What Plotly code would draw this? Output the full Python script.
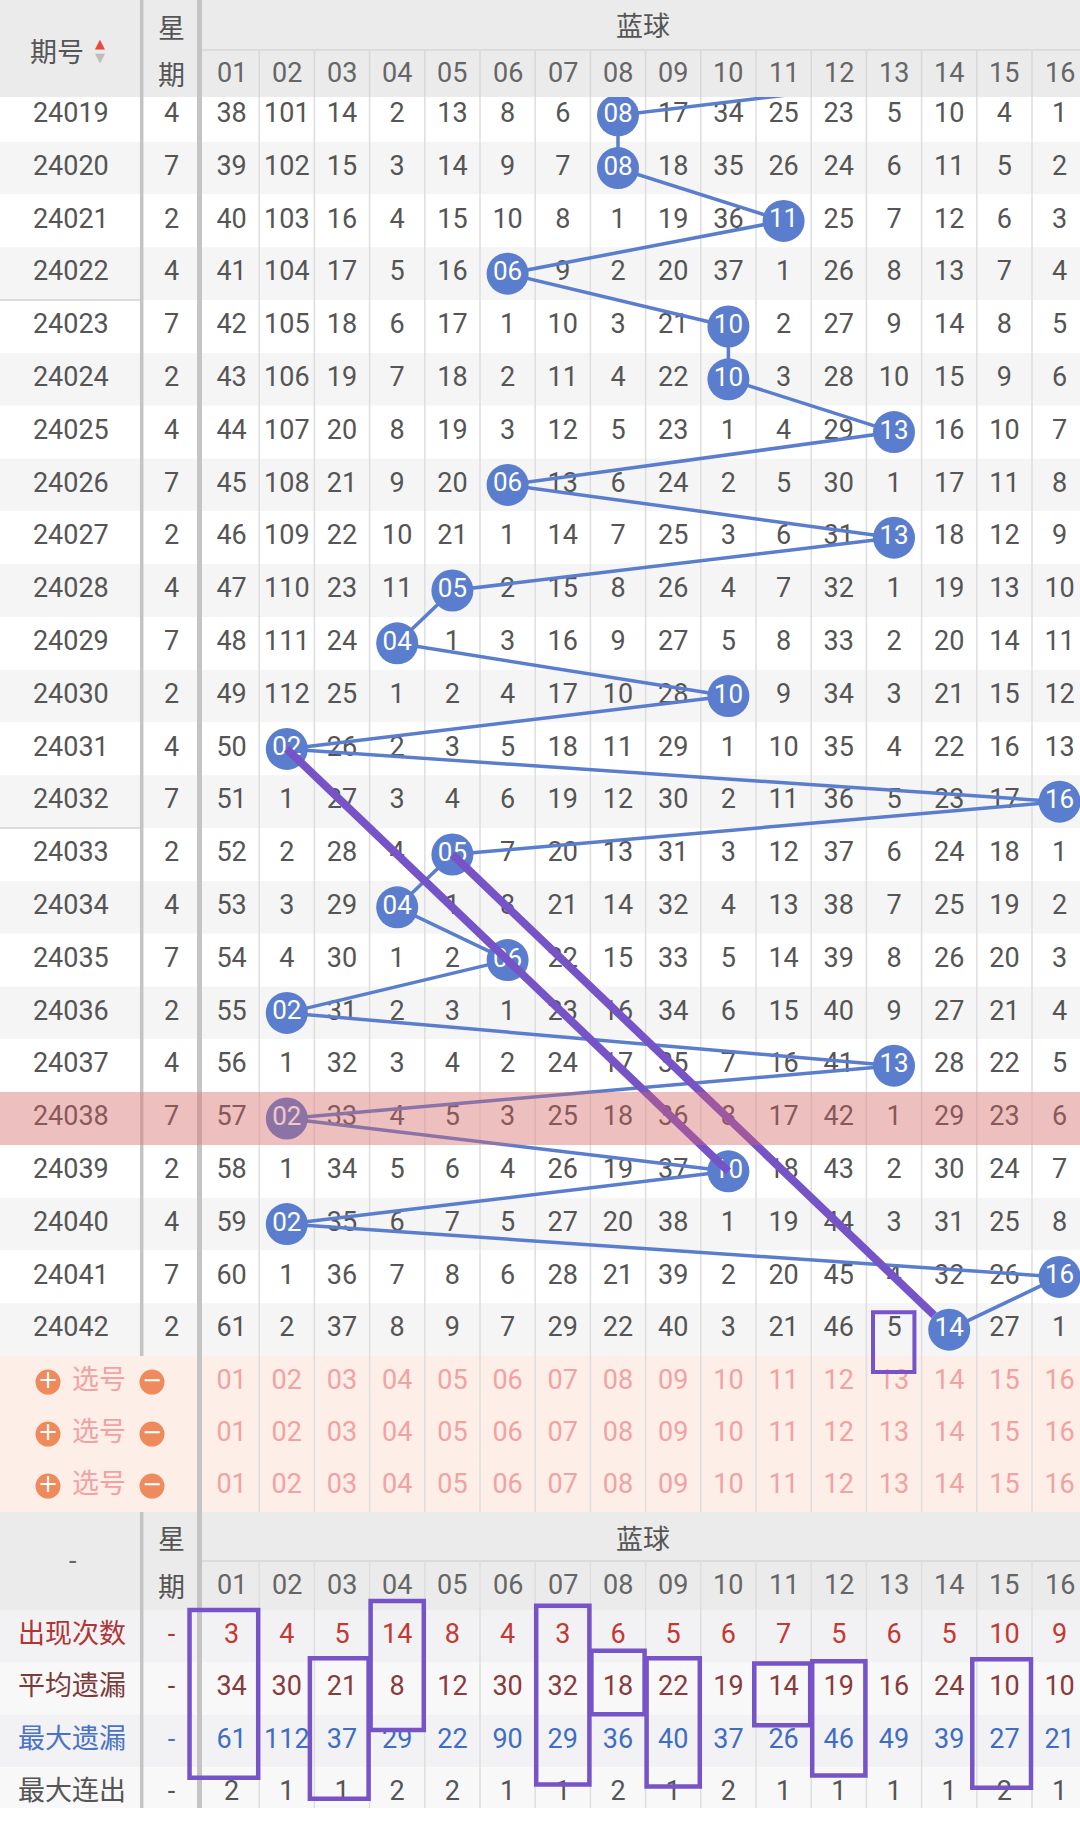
import math
import plotly.graph_objects as go

# ---------------- data ----------------
issues = [24019, 24020, 24021, 24022, 24023, 24024, 24025, 24026, 24027, 24028, 24029, 24030,
          24031, 24032, 24033, 24034, 24035, 24036, 24037, 24038, 24039, 24040, 24041, 24042]
weekdays = [4, 7, 2, 4, 7, 2, 4, 7, 2, 4, 7, 2, 4, 7, 2, 4, 7, 2, 4, 7, 2, 4, 7, 2]
hits = [8, 8, 11, 6, 10, 10, 13, 6, 13, 5, 4, 10, 2, 16, 5, 4, 6, 2, 13, 2, 10, 2, 16, 14]
prev_hit = 16  # hit of issue 24018 (line runs under the header)
numbers = ["01", "02", "03", "04", "05", "06", "07", "08", "09", "10", "11", "12", "13", "14", "15", "16"]
# miss values per issue (0 = hit cell, shown as a ball)
miss = [
    [38, 101, 14, 2, 13, 8, 6, 0, 17, 34, 25, 23, 5, 10, 4, 1],
    [39, 102, 15, 3, 14, 9, 7, 0, 18, 35, 26, 24, 6, 11, 5, 2],
    [40, 103, 16, 4, 15, 10, 8, 1, 19, 36, 0, 25, 7, 12, 6, 3],
    [41, 104, 17, 5, 16, 0, 9, 2, 20, 37, 1, 26, 8, 13, 7, 4],
    [42, 105, 18, 6, 17, 1, 10, 3, 21, 0, 2, 27, 9, 14, 8, 5],
    [43, 106, 19, 7, 18, 2, 11, 4, 22, 0, 3, 28, 10, 15, 9, 6],
    [44, 107, 20, 8, 19, 3, 12, 5, 23, 1, 4, 29, 0, 16, 10, 7],
    [45, 108, 21, 9, 20, 0, 13, 6, 24, 2, 5, 30, 1, 17, 11, 8],
    [46, 109, 22, 10, 21, 1, 14, 7, 25, 3, 6, 31, 0, 18, 12, 9],
    [47, 110, 23, 11, 0, 2, 15, 8, 26, 4, 7, 32, 1, 19, 13, 10],
    [48, 111, 24, 0, 1, 3, 16, 9, 27, 5, 8, 33, 2, 20, 14, 11],
    [49, 112, 25, 1, 2, 4, 17, 10, 28, 0, 9, 34, 3, 21, 15, 12],
    [50, 0, 26, 2, 3, 5, 18, 11, 29, 1, 10, 35, 4, 22, 16, 13],
    [51, 1, 27, 3, 4, 6, 19, 12, 30, 2, 11, 36, 5, 23, 17, 0],
    [52, 2, 28, 4, 0, 7, 20, 13, 31, 3, 12, 37, 6, 24, 18, 1],
    [53, 3, 29, 0, 1, 8, 21, 14, 32, 4, 13, 38, 7, 25, 19, 2],
    [54, 4, 30, 1, 2, 0, 22, 15, 33, 5, 14, 39, 8, 26, 20, 3],
    [55, 0, 31, 2, 3, 1, 23, 16, 34, 6, 15, 40, 9, 27, 21, 4],
    [56, 1, 32, 3, 4, 2, 24, 17, 35, 7, 16, 41, 0, 28, 22, 5],
    [57, 0, 33, 4, 5, 3, 25, 18, 36, 8, 17, 42, 1, 29, 23, 6],
    [58, 1, 34, 5, 6, 4, 26, 19, 37, 0, 18, 43, 2, 30, 24, 7],
    [59, 0, 35, 6, 7, 5, 27, 20, 38, 1, 19, 44, 3, 31, 25, 8],
    [60, 1, 36, 7, 8, 6, 28, 21, 39, 2, 20, 45, 4, 32, 26, 0],
    [61, 2, 37, 8, 9, 7, 29, 22, 40, 3, 21, 46, 5, 0, 27, 1],
]
stat_labels = ["出现次数", "平均遗漏", "最大遗漏", "最大连出"]
appear = [3, 4, 5, 14, 8, 4, 3, 6, 5, 6, 7, 5, 6, 5, 10, 9]
avg_miss = [34, 30, 21, 8, 12, 30, 32, 18, 22, 19, 14, 19, 16, 24, 10, 10]
max_miss = [61, 112, 37, 29, 22, 90, 29, 36, 40, 37, 26, 46, 49, 39, 27, 21]
max_run = [2, 1, 1, 2, 2, 1, 1, 2, 1, 2, 1, 1, 1, 1, 2, 1]
highlight_issue = 24038
group_breaks = [24022, 24032]
# thick links: (from issue, to issue, stop at edge of the target ball?)
purple_links = [(24031, 24039, False), (24033, 24042, True)]
marked_cell = (24042, 13)
# marked stat spans: (column, from stat-row, to stat-row, extra left reach)
stat_marks = [(1, 0.0, 3.2, 0.28), (3, 0.92, 3.6, 0.1), (4, -0.17, 2.29, 0.0), (7, -0.08, 3.33, 0.0),
              (8, 0.78, 1.99, 0.0), (9, 0.92, 3.37, 0.0), (11, 1.02, 2.2, 0.05), (12, 0.98, 3.16, 0.0),
              (15, 0.94, 3.39, 0.1)]

# ---------------- geometry ----------------
W, H = 1080, 1825
COL0, CW = 204.0, 55.2
ROW_TOP, RH = 88.9, 52.8
HDR_MID, HDR_BOT = 50, 97
DATA_BOT = ROW_TOP + len(issues) * RH
SEL_RH = 52.0
BH_TOP = DATA_BOT + 3 * SEL_RH
BH_MID = BH_TOP + 49
BH_BOT = 1610
ST_RH = 52.4
TABLE_BOT = 1808
SEP1, SEP2 = 141.7, 199.5
BALL = 42

FONT = "Roboto, 'Noto Sans CJK SC', sans-serif"
CJK = "'Noto Sans CJK SC', Roboto, sans-serif"
BLUE = "#5a7dcd"
PURPLE = "#7653c7"


def cx(c):
    return COL0 + (c - 0.5) * CW


def ry(i):
    return ROW_TOP + (i + 0.5) * RH


def sy(k):
    return BH_BOT + (k + 0.5) * ST_RH


def sel_y(k):
    return DATA_BOT + (k + 0.5) * SEL_RH


shapes = []
annotations = []


def rect(x0, y0, x1, y1, fill, layer="below", line=None):
    shapes.append(dict(type="rect", x0=x0, y0=y0, x1=x1, y1=y1, xref="x", yref="y",
                       fillcolor=fill, line=line or dict(width=0), layer=layer))


def vline(x, y0, y1, color, width, layer="below"):
    shapes.append(dict(type="line", x0=x, x1=x, y0=y0, y1=y1, xref="x", yref="y",
                       line=dict(color=color, width=width), layer=layer))


def hline(y, x0, x1, color, width, layer="below"):
    shapes.append(dict(type="line", x0=x0, x1=x1, y0=y, y1=y, xref="x", yref="y",
                       line=dict(color=color, width=width), layer=layer))


def label(x, y, text, size=27, color="#555555", family=FONT):
    annotations.append(dict(x=x, y=y, xref="x", yref="y", text=text, showarrow=False,
                            font=dict(size=size, color=color, family=family),
                            xanchor="center", yanchor="middle"))


# row backgrounds
for i in range(len(issues)):
    rect(0, ROW_TOP + i * RH, W, ROW_TOP + (i + 1) * RH, "#ffffff" if i % 2 == 0 else "#f5f5f5")
for i, iss in enumerate(issues):
    if iss in group_breaks:
        hline(ROW_TOP + (i + 1) * RH, 0, SEP1, "#d2d2d2", 1.5)
# selection area
rect(0, DATA_BOT, W, BH_TOP, "#fdeee8")
# bottom header + stats rows
rect(0, BH_TOP, W, BH_BOT, "#ebebeb")
for k in range(len(stat_labels)):
    rect(0, BH_BOT + k * ST_RH, W, min(BH_BOT + (k + 1) * ST_RH, TABLE_BOT),
         "#f2f2f4" if k % 2 == 0 else "#f8f8f8")
hline(BH_MID, SEP2, W, "#d6d6d6", 1.5)
# thin column lines in body
for c in range(1, len(numbers)):
    x = COL0 + c * CW
    vline(x, HDR_BOT, BH_TOP, "#dedede", 1.5)
    vline(x, BH_MID, TABLE_BOT, "#dedede", 1.5)

# top header (above traces so the incoming line is hidden)
rect(0, 0, W, HDR_BOT, "#ebebeb", layer="above")
hline(HDR_MID, SEP2, W, "#d6d6d6", 1.5, layer="above")
for c in range(1, len(numbers)):
    vline(COL0 + c * CW, HDR_MID, HDR_BOT, "#d8d8d8", 1.5, layer="above")
# thick separators
vline(SEP1, 0, DATA_BOT, "#c4c4c4", 3.5, layer="above")
vline(SEP1, BH_TOP, TABLE_BOT, "#c4c4c4", 3.5, layer="above")
vline(SEP2, 0, TABLE_BOT, "#c4c4c4", 5, layer="above")

# highlighted row overlay
hi = issues.index(highlight_issue)
rect(0, ROW_TOP + hi * RH, W, ROW_TOP + (hi + 1) * RH, "rgba(226,98,98,0.36)", layer="above")

# marked boxes
mi = issues.index(marked_cell[0])
mc = marked_cell[1]
rect(cx(mc) - 0.38 * CW, ROW_TOP + (mi + 0.17) * RH, cx(mc) + 0.37 * CW, ROW_TOP + (mi + 1.3) * RH,
     "rgba(0,0,0,0)", layer="above", line=dict(color=PURPLE, width=4))
for c, r0, r1, ext in stat_marks:
    rect(COL0 + (c - 1) * CW - ext * CW + 1, BH_BOT + r0 * ST_RH, COL0 + c * CW - 1, BH_BOT + r1 * ST_RH,
         "rgba(0,0,0,0)", layer="above", line=dict(color=PURPLE, width=4.5))

fig = go.Figure()

# miss values
tx, ty, tt = [], [], []
for i, row in enumerate(miss):
    for c, v in enumerate(row):
        if v != 0:
            tx.append(cx(c + 1)); ty.append(ry(i)); tt.append(str(v))
fig.add_trace(go.Scatter(x=tx, y=ty, text=tt, mode="text",
                         textfont=dict(size=27, color="#555555", family=FONT)))

# issue + weekday
fig.add_trace(go.Scatter(x=[(0 + SEP1) / 2] * len(issues), y=[ry(i) for i in range(len(issues))],
                         text=[str(v) for v in issues], mode="text",
                         textfont=dict(size=27, color="#555555", family=FONT)))
fig.add_trace(go.Scatter(x=[(SEP1 + SEP2) / 2 + 1] * len(issues), y=[ry(i) for i in range(len(issues))],
                         text=[str(v) for v in weekdays], mode="text",
                         textfont=dict(size=27, color="#555555", family=FONT)))

# connecting line of hits (starting from the previous issue under the header)
lx = [cx(prev_hit)] + [cx(h) for h in hits]
ly = [ry(-1)] + [ry(i) for i in range(len(hits))]
fig.add_trace(go.Scatter(x=lx, y=ly, mode="lines", line=dict(color=BLUE, width=3.5)))
# balls
fig.add_trace(go.Scatter(x=[cx(h) for h in hits], y=[ry(i) for i in range(len(hits))],
                         text=[numbers[h - 1] for h in hits], mode="markers+text",
                         marker=dict(size=BALL, color=BLUE, line=dict(width=0)),
                         textfont=dict(size=26, color="white", family=FONT)))
# thick purple links
for a, b, stop_at_edge in purple_links:
    ia, ib = issues.index(a), issues.index(b)
    x0, y0 = cx(hits[ia]), ry(ia)
    x1, y1 = cx(hits[ib]), ry(ib)
    if stop_at_edge:
        d = math.hypot(x1 - x0, y1 - y0)
        x1 -= (x1 - x0) / d * BALL / 2
        y1 -= (y1 - y0) / d * BALL / 2
    fig.add_trace(go.Scatter(x=[x0, x1], y=[y0, y1], mode="lines",
                             line=dict(color=PURPLE, width=8)))

# selection rows
for k in range(3):
    y = sel_y(k)
    fig.add_trace(go.Scatter(x=[cx(c + 1) for c in range(len(numbers))], y=[y] * len(numbers),
                             text=numbers, mode="text",
                             textfont=dict(size=27, color="#f1a2a2", family=FONT)))
    fig.add_trace(go.Scatter(x=[48, 152], y=[y, y], mode="markers+text", text=["+", "−"],
                             marker=dict(size=25, color="#ee8a5c", line=dict(width=0)),
                             textfont=dict(size=24, color="white", family="DejaVu Sans")))
    fig.add_trace(go.Scatter(x=[99], y=[y], mode="text", text=["选号"],
                             textfont=dict(size=27, color="#f1a2a2", family=CJK)))

# stats
stat_vals = [appear, avg_miss, max_miss, max_run]
label_colors = ["#b03636", "#7d3a3a", "#4a73c6", "#555555"]
value_colors = ["#c23a32", "#883b3b", "#3f6dc3", "#555555"]
for k, vals in enumerate(stat_vals):
    y = sy(k)
    fig.add_trace(go.Scatter(x=[cx(c + 1) for c in range(len(vals))], y=[y] * len(vals),
                             text=[str(v) for v in vals], mode="text",
                             textfont=dict(size=27, color=value_colors[k], family=FONT)))
    fig.add_trace(go.Scatter(x=[72], y=[y], mode="text", text=[stat_labels[k]],
                             textfont=dict(size=27, color=label_colors[k], family=CJK)))
    fig.add_trace(go.Scatter(x=[(SEP1 + SEP2) / 2 + 1], y=[y], mode="text", text=["-"],
                             textfont=dict(size=27, color=label_colors[k], family=FONT)))

# header texts
label(57, 50, "期号", family=CJK)
label(100, 43, "▲", size=13, color="#e64a3f", family="DejaVu Sans")
label(100, 57, "▼", size=13, color="#bdbdbd", family="DejaVu Sans")
label(171, 26, "星", family=CJK)
label(171, 73, "期", family=CJK)
label(643, 24, "蓝球", family=CJK)
for c, n in enumerate(numbers):
    label(cx(c + 1), 73, n, color="#666666")
# bottom header texts
label(72, (BH_TOP + BH_BOT) / 2, "-", color="#666666")
label(171, BH_TOP + 25, "星", family=CJK)
label(171, BH_MID + 24, "期", family=CJK)
label(643, BH_TOP + 25, "蓝球", family=CJK)
for c, n in enumerate(numbers):
    label(cx(c + 1), BH_MID + 24, n, color="#666666")

fig.update_layout(
    width=W, height=H, margin=dict(l=0, r=0, t=0, b=0, autoexpand=False),
    paper_bgcolor="white", plot_bgcolor="white", showlegend=False, hovermode=False,
    xaxis=dict(range=[0, W], visible=False, fixedrange=True),
    yaxis=dict(range=[H, 0], visible=False, fixedrange=True),
    shapes=shapes, annotations=annotations,
)
fig.write_html("out.html", config={"displayModeBar": False, "staticPlot": True},
               post_script="document.body.style.margin='0';document.body.style.overflow='hidden';")
